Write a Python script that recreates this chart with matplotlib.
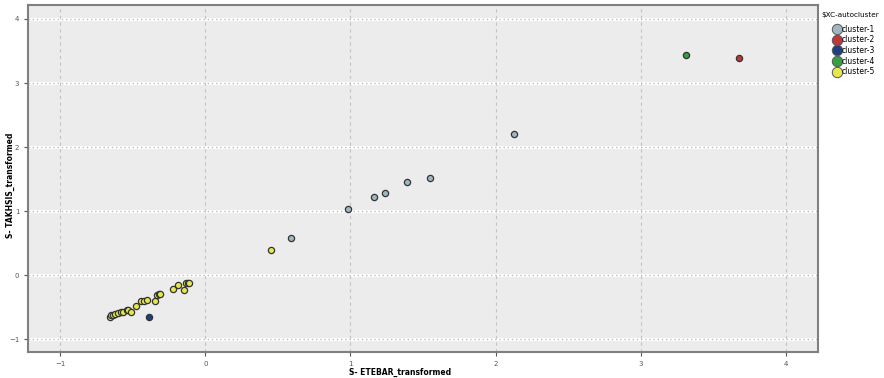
import matplotlib
matplotlib.use("Agg")
import matplotlib.pyplot as plt
from matplotlib.lines import Line2D

# cluster labels and colours
clusters = ["cluster-1", "cluster-2", "cluster-3", "cluster-4", "cluster-5"]
colors = ["#9db8c0", "#c0363a", "#1f3f80", "#35a040", "#e6e84a"]

# values (S- ETEBAR_transformed, S- TAKHSIS_transformed)
c1_x = [0.59, 0.98, 1.16, 1.24, 1.39, 1.55, 2.13]
c1_y = [0.58, 1.03, 1.22, 1.28, 1.45, 1.52, 2.21]
c2_x = [3.68]
c2_y = [3.39]
c3_x = [-0.39]
c3_y = [-0.65]
c4_x = [3.31]
c4_y = [3.44]
c5_x = [-0.66, -0.65, -0.635, -0.62, -0.60, -0.58, -0.57, -0.54, -0.53, -0.51,
        -0.475, -0.44, -0.425, -0.405, -0.35, -0.33, -0.32, -0.31, -0.22, -0.19,
        -0.145, -0.13, -0.12, -0.115, 0.45]
c5_y = [-0.65, -0.63, -0.625, -0.61, -0.59, -0.58, -0.57, -0.54, -0.55, -0.57,
        -0.48, -0.40, -0.40, -0.39, -0.41, -0.31, -0.29, -0.30, -0.21, -0.16,
        -0.23, -0.12, -0.13, -0.13, 0.39]

xs = [c1_x, c2_x, c3_x, c4_x, c5_x]
ys = [c1_y, c2_y, c3_y, c4_y, c5_y]

x_ticks = [-1, 0, 1, 2, 3, 4]
y_ticks = [-1, 0, 1, 2, 3, 4]

fig = plt.figure(figsize=(8.84, 3.78), dpi=100)
ax = fig.add_axes([0.032, 0.069, 0.893, 0.918])
ax.set_facecolor("#ececec")

for name, col, x, y in zip(clusters, colors, xs, ys):
    ax.scatter(x, y, s=20, c=col, edgecolors="#333333", linewidths=0.9, zorder=3, label=name)

ax.set_xlim(-1.22, 4.22)
ax.set_ylim(-1.2, 4.22)
ax.set_xticks(x_ticks)
ax.set_yticks(y_ticks)
ax.tick_params(labelsize=5, colors="#555555", length=3, width=0.8)

# horizontal grid: white band with dotted grey on top, vertical faint dashed
for yv in y_ticks:
    ax.axhline(yv, color="white", lw=2.2, zorder=1)
    ax.axhline(yv, color="#bdbdbd", lw=1, ls=(0, (1, 2)), zorder=1.5)
for xv in x_ticks:
    ax.axvline(xv, color="#c4c4c4", lw=0.8, ls=(0, (3, 3)), zorder=1)

for s in ax.spines.values():
    s.set_color("#808080")
    s.set_linewidth(1.5)

# axis titles placed by hand so they stay inside the small canvas
fig.text(0.452, 0.016, "S- ETEBAR_transformed", fontsize=5.5, fontweight="bold",
         ha="center", va="center")
fig.text(0.012, 0.51, "S- TAKHSIS_transformed", fontsize=5.5, fontweight="bold",
         rotation=90, ha="center", va="center")

# legend title as its own text, entries indented below it
fig.text(0.929, 0.960, "$XC-autocluster", fontsize=5.2, ha="left", va="center")
handles = [Line2D([0], [0], marker="o", ls="", markersize=7.5, markerfacecolor=c,
                  markeredgecolor="#555555", markeredgewidth=0.7) for c in colors]
fig.legend(handles, clusters, loc="upper left", bbox_to_anchor=(0.942, 0.935),
           frameon=False, fontsize=5.5, handletextpad=0.1, labelspacing=0.22,
           borderpad=0.0, handlelength=1.1, borderaxespad=0.0)

fig.savefig("out.png", dpi=100)
